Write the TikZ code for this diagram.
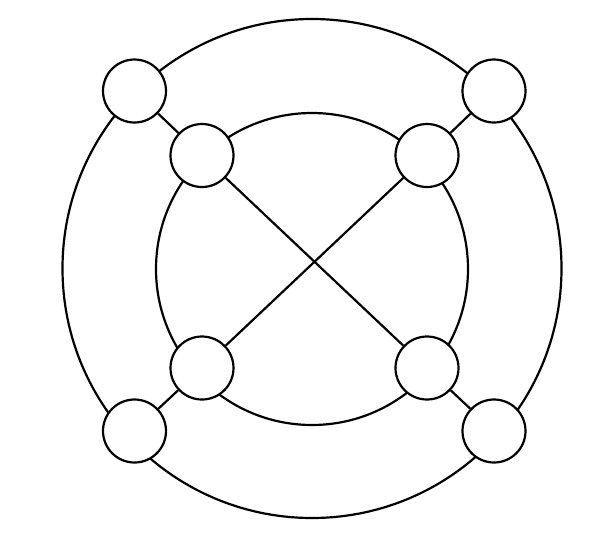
\documentclass[tikz,border=0pt]{standalone}
\begin{document}
\begin{tikzpicture}[line width=1.25pt, vertex/.style={circle, draw, fill=white, inner sep=0pt, minimum size=1.26cm}]
	\useasboundingbox (0,0) rectangle (11.94,-10.70);
	\draw (6.24,-5.37) circle (4.99);
	\draw (6.24,-5.38) circle (3.12);
	
	\node[vertex] at (2.69, -1.82) (outnw) {};
	\node[vertex] at (9.88, -1.82) (outne) {};
	\node[vertex] at (2.69, -8.62) (outsw) {};
	\node[vertex] at (9.88, -8.62) (outse) {};
	\node[vertex] at (4.04, -3.11) (innw) {};
	\node[vertex] at (8.54, -3.11) (inne) {};
	\node[vertex] at (4.04, -7.36) (insw) {};
	\node[vertex] at (8.54, -7.36) (inse) {};
	
	\draw (outnw) -- (innw);
	\draw (outne) -- (inne);
	\draw (outsw) -- (insw);
	\draw (outse) -- (inse);
	\draw (innw) -- (inse);
	\draw (inne) -- (insw);
	
\end{tikzpicture}
\end{document}
